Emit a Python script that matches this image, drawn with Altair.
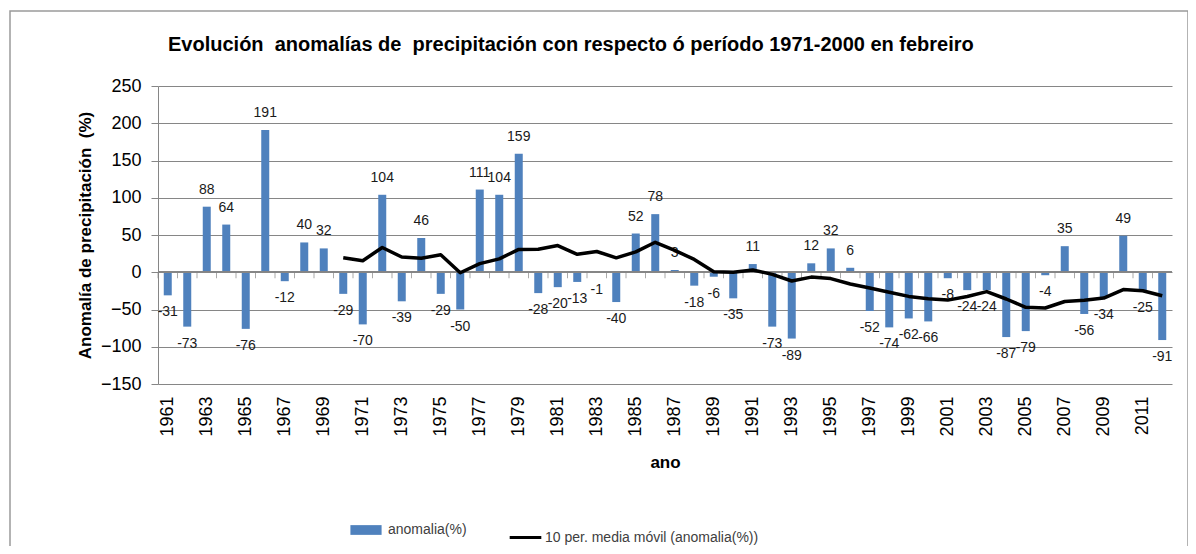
import altair as alt
import pandas as pd

years = list(range(1961, 2013))
anomalia = [-31, -73, 88, 64, -76, 191, -12, 40, 32, -29,
            -70, 104, -39, 46, -29, -50, 111, 104, 159, -28,
            -20, -13, -1, -40, 52, 78, 3, -18, -6, -35,
            11, -73, -89, 12, 32, 6, -52, -74, -62, -66,
            -8, -24, -24, -87, -79, -4, 35, -56, -34, 49,
            -25, -91]
ma_years = list(range(1970, 2013))
media_movil = [19.4, 15.5, 33.2, 20.5, 18.7, 23.4, -0.7, 11.6, 18.0, 30.7,
               30.8, 35.8, 24.1, 27.9, 19.3, 27.4, 40.2, 29.4, 17.2, 0.7,
               0.0, 3.1, -2.9, -11.7, -6.5, -8.5, -15.7, -21.2, -26.8, -32.4,
               -35.5, -37.4, -32.5, -26.0, -35.9, -47.0, -48.0, -39.3, -37.5, -34.7,
               -23.2, -24.9, -31.6]
y_ticks = [-150, -100, -50, 0, 50, 100, 150, 200, 250]
x_label_years = list(range(1961, 2013, 2))

bar_name = "anomalia(%)"
line_name = "10 per. media móvil (anomalia(%))"

df = pd.DataFrame({"ano": years, "anomalia": anomalia, "serie": bar_name,
                   "etiqueta": [str(v) for v in anomalia]})
df_ma = pd.DataFrame({"ano": ma_years, "media": media_movil, "serie": line_name})

W, H = 1014, 298
GRAY = "#868686"
FONT = "Liberation Sans"
NB = "\u00a0"

xscale = alt.Scale(domain=years, paddingInner=0, paddingOuter=0)
x_axis = alt.Axis(values=x_label_years, labelAngle=-90, labelAlign="right",
                  labelBaseline="middle", labelPadding=12, labelFontSize=18,
                  labelColor="#000000", labelFont=FONT, domain=False, ticks=False,
                  grid=False, title="ano", titleFontSize=17, titleFont=FONT,
                  titleFontWeight="bold", titlePadding=18, titleColor="#000000")
yscale = alt.Scale(domain=[-150, 250], nice=False, zero=False)
y_axis = alt.Axis(values=y_ticks, labelFontSize=18, labelFont=FONT, labelColor="#000000",
                  labelPadding=10, labelOverlap=False, format="d",
                  domain=True, domainColor=GRAY, ticks=True, tickColor=GRAY,
                  tickSize=7, grid=True, gridColor=GRAY, gridWidth=1,
                  title="Anomalía de precipitación" + NB + " (%)", titleFontSize=17, titleFont=FONT,
                  titleFontWeight="bold", titleColor="#000000", titlePadding=6)


def X(**kw):
    return alt.X("ano:O", scale=xscale, axis=x_axis, **kw)


def Y(field):
    return alt.Y(field, scale=yscale, axis=y_axis)


base = alt.Chart(df)

bars = base.mark_bar(size=8).encode(
    x=X(),
    y=Y("anomalia:Q"),
    fill=alt.Fill("serie:N", scale=alt.Scale(domain=[bar_name], range=["#4F81BD"]),
                  legend=alt.Legend(orient="none", legendX=198, legendY=434, title=None,
                                    symbolType="M-1.6,-0.5L1.6,-0.5L1.6,0.5L-1.6,0.5Z",
                                    symbolSize=380, symbolStrokeWidth=0, labelOffset=12,
                                    labelFontSize=14, labelFont=FONT, labelColor="#404040",
                                    labelLimit=400)),
)

zero_ticks = base.mark_tick(orient="vertical", size=6, thickness=1, color=GRAY, yOffset=3).encode(
    x=X(bandPosition=0),
    y=alt.Y(datum=0, scale=yscale, axis=y_axis),
)

zero_rule = base.mark_rule(color=GRAY, strokeWidth=1).encode(
    y=alt.Y(datum=0, scale=yscale, axis=y_axis))

lbl_pos = base.transform_filter("datum.anomalia >= 0").mark_text(
    baseline="bottom", dy=-10, fontSize=14, font=FONT, color="#1a1a1a").encode(
    x=X(), y=Y("anomalia:Q"), text="etiqueta:N")
lbl_neg = base.transform_filter("datum.anomalia < 0").mark_text(
    baseline="top", dy=10, fontSize=14, font=FONT, color="#1a1a1a").encode(
    x=X(), y=Y("anomalia:Q"), text="etiqueta:N")

line = alt.Chart(df_ma).mark_line(strokeWidth=3.5, strokeJoin="round").encode(
    x=X(),
    y=Y("media:Q"),
    stroke=alt.Stroke("serie:N", scale=alt.Scale(domain=[line_name], range=["#000000"]),
                      legend=alt.Legend(orient="none", legendX=350, legendY=434, title=None,
                                        symbolType="stroke", symbolStrokeWidth=3, symbolSize=1000,
                                        labelOffset=2,
                                        labelFontSize=14, labelFont=FONT, labelColor="#404040",
                                        labelLimit=400)),
)

frame = alt.Chart(pd.DataFrame({"a": [0]})).mark_rect(
    fill=None, stroke="#9a9a9a", strokeWidth=1.5).encode(
    x=alt.value(-148), x2=alt.value(1030), y=alt.value(-75), y2=alt.value(490))

title_text = ("Evolución" + NB + " anomalías de" + NB +
              " precipitación con respecto ó período 1971-2000 en febreiro")

chart = alt.layer(bars, zero_rule, zero_ticks, lbl_pos, lbl_neg, line, frame).resolve_scale(
    fill="independent", stroke="independent"
).properties(
    width=W, height=H,
    autosize=alt.AutoSizeParams(type="none"),
    padding={"left": 150, "top": 78, "right": 16, "bottom": 162},
    title=alt.TitleParams(title_text,
                          anchor="start", frame="group", dx=10, offset=0, dy=45, fontSize=20,
                          fontWeight="bold", font=FONT, color="#000000"),
).configure_view(stroke=None)

chart.save("out.html", embed_options={"renderer": "svg", "actions": False})
